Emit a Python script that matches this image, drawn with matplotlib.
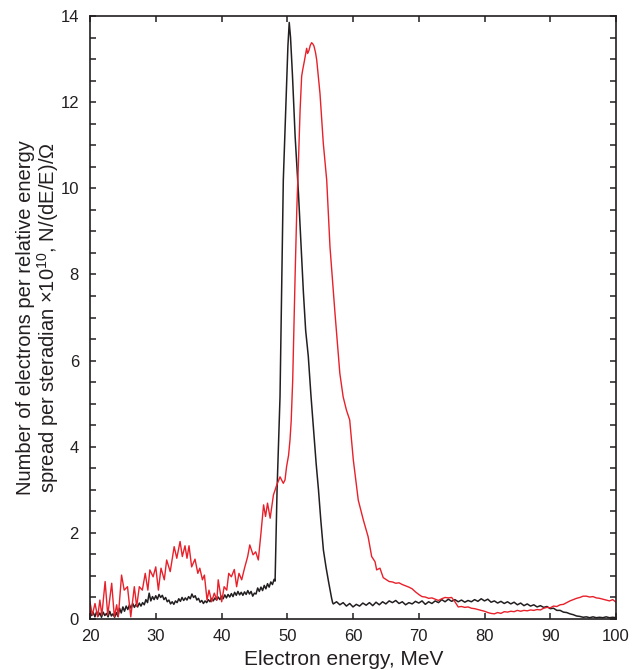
import matplotlib

matplotlib.use("Agg")
import matplotlib.pyplot as plt
from matplotlib.ticker import MultipleLocator

plt.rcParams["font.family"] = ["Liberation Sans", "DejaVu Sans"]
plt.rcParams["mathtext.fontset"] = "custom"
plt.rcParams["mathtext.rm"] = "Liberation Sans"
plt.rcParams["mathtext.it"] = "Liberation Sans:italic"

INK = "#231f20"
RED = "#e8202a"

# black spectrum: low-energy background, sharp peak near 50 MeV, flat tail
black_energy = [
    20.00, 20.25, 20.50, 20.75, 21.00, 21.25, 21.50, 21.75, 22.00, 22.25,
    22.50, 22.75, 23.00, 23.25, 23.50, 23.75, 24.00, 24.25, 24.50, 24.75,
    25.00, 25.25, 25.50, 25.75, 26.00, 26.25, 26.50, 26.75, 27.00, 27.25,
    27.50, 27.75, 28.00, 28.25, 28.50, 28.75, 29.00, 29.25, 29.50, 29.75,
    30.00, 30.25, 30.50, 30.75, 31.00, 31.25, 31.50, 31.75, 32.00, 32.25,
    32.50, 32.75, 33.00, 33.25, 33.50, 33.75, 34.00, 34.25, 34.50, 34.75,
    35.00, 35.25, 35.50, 35.75, 36.00, 36.25, 36.50, 36.75, 37.00, 37.25,
    37.50, 37.75, 38.00, 38.25, 38.50, 38.75, 39.00, 39.25, 39.50, 39.75,
    40.00, 40.25, 40.50, 40.75, 41.00, 41.25, 41.50, 41.75, 42.00, 42.25,
    42.50, 42.75, 43.00, 43.25, 43.50, 43.75, 44.00, 44.25, 44.50, 44.75,
    45.00, 45.25, 45.50, 45.75, 46.00, 46.25, 46.50, 46.75, 47.00, 47.25,
    47.50, 47.75, 48.00, 48.15,
    48.45, 48.9, 49.4, 49.8, 50.1, 50.3, 50.5, 50.8, 51.2, 51.7,
    52.1, 52.45, 52.8, 53.2, 53.6, 53.95, 54.4, 54.75, 55.1, 55.5,
    55.9, 56.3, 56.75, 56.9,
    57.0, 57.5, 58.0, 58.5, 59.0, 59.5, 60.0, 60.5, 61.0, 61.5,
    62.0, 62.5, 63.0, 63.5, 64.0, 64.5, 65.0, 65.5, 66.0, 66.5,
    67.0, 67.5, 68.0, 68.5, 69.0, 69.5, 70.0, 70.5, 71.0, 71.5,
    72.0, 72.5, 73.0, 73.5, 74.0, 74.5, 75.0, 75.5, 76.0, 76.5,
    77.0, 77.5, 78.0, 78.5, 79.0, 79.5, 80.0, 80.5, 81.0, 81.5,
    82.0, 82.5, 83.0, 83.5, 84.0, 84.5, 85.0, 85.5, 86.0, 86.5,
    87.0, 87.5, 88.0, 88.5, 89.0, 89.5, 90.0, 90.5, 91.0, 91.5,
    92.0, 92.5, 93.0, 93.5, 94.0, 94.5, 95.0, 95.5, 96.0, 96.5,
    97.0, 97.5, 98.0, 98.5, 99.0, 99.5, 100.0,
]
black_value = [
    0.18, 0.08, 0.15, 0.05, 0.17, 0.07, 0.14, 0.04, 0.16, 0.08,
    0.13, 0.05, 0.18, 0.07, 0.12, 0.04, 0.15, 0.06, 0.25, 0.14,
    0.28, 0.18, 0.30, 0.22, 0.33, 0.25, 0.36, 0.27, 0.34, 0.28,
    0.37, 0.30, 0.38, 0.33, 0.45, 0.38, 0.60, 0.42, 0.52, 0.45,
    0.54, 0.46, 0.57, 0.50, 0.55, 0.45, 0.50, 0.40, 0.44, 0.35,
    0.40, 0.34, 0.42, 0.38, 0.47, 0.41, 0.50, 0.43, 0.49, 0.44,
    0.52, 0.47, 0.58, 0.50, 0.54, 0.44, 0.48, 0.39, 0.43, 0.36,
    0.42, 0.38, 0.45, 0.40, 0.48, 0.42, 0.49, 0.44, 0.51, 0.45,
    0.53, 0.47, 0.56, 0.49, 0.57, 0.51, 0.59, 0.52, 0.62, 0.55,
    0.64, 0.56, 0.62, 0.55, 0.63, 0.57, 0.66, 0.58, 0.64, 0.53,
    0.60, 0.58, 0.72, 0.64, 0.74, 0.66, 0.78, 0.70, 0.82, 0.74,
    0.86, 0.80, 0.92, 0.88,
    3.00, 5.16, 10.19, 12.00, 13.30, 13.85, 13.50, 12.60, 11.20, 9.90,
    8.70, 7.60, 6.70, 6.10, 5.20, 4.50, 3.60, 3.00, 2.30, 1.60,
    1.20, 0.85, 0.48, 0.38,
    0.35, 0.40, 0.33, 0.38, 0.30, 0.36, 0.28, 0.34, 0.30, 0.37,
    0.32, 0.38, 0.31, 0.39, 0.33, 0.40, 0.35, 0.42, 0.38, 0.43,
    0.36, 0.40, 0.33, 0.38, 0.35, 0.41, 0.37, 0.42, 0.34, 0.40,
    0.36, 0.42, 0.38, 0.45, 0.40, 0.46, 0.41, 0.45, 0.40, 0.44,
    0.39, 0.43, 0.40, 0.45, 0.41, 0.47, 0.42, 0.46, 0.39, 0.42,
    0.37, 0.41, 0.36, 0.40, 0.35, 0.39, 0.33, 0.37, 0.31, 0.35,
    0.30, 0.33, 0.28, 0.31, 0.27, 0.29, 0.24, 0.25, 0.20, 0.20,
    0.16, 0.15, 0.12, 0.10, 0.07, 0.06, 0.04, 0.05, 0.03, 0.05,
    0.03, 0.04, 0.03, 0.05, 0.03, 0.04, 0.03,
]

# red spectrum: noisy low-energy part, broader peak near 53.5 MeV
red_energy = [
    20.0, 20.35, 20.76, 21.17, 21.5, 21.8, 22.3, 22.7, 23.3, 23.7,
    24.06, 24.3, 24.8, 25.2, 25.7, 26.2, 26.74, 27.1, 27.5, 27.96,
    28.4, 28.8, 29.1, 29.6, 30.0, 30.4, 30.8, 31.3, 31.66, 32.2,
    32.8, 33.2, 33.7, 34.04, 34.45, 34.75, 35.06, 35.46, 35.97, 36.4,
    36.7, 37.1, 37.4, 37.8, 38.1, 38.5, 38.9, 39.3, 39.5, 40.03,
    40.4, 40.8, 41.1, 41.5, 41.95, 42.3, 42.66, 43.07, 43.5, 43.98,
    44.3, 44.8, 45.2, 45.6, 46.0, 46.4, 46.7, 47.0, 47.4, 47.9,
    48.4, 48.9, 49.4, 49.66, 49.9, 50.2, 50.42, 50.6, 50.83, 51.0,
    51.2, 51.45, 51.7, 51.95, 52.19, 52.35, 52.6, 52.95, 53.1, 53.3,
    53.5, 53.71, 53.9, 54.07, 54.3, 54.48, 54.98, 55.48, 56.0, 56.5,
    57.26, 58.0, 58.5, 59.0, 59.5, 60.05, 60.8, 61.57, 62.3, 62.84,
    63.35, 63.6, 64.1, 64.6,
    65.0, 65.5, 66.0, 66.5, 67.0, 67.5, 68.0, 68.5, 69.0, 69.5,
    70.0, 70.5, 71.0, 71.5, 72.0, 72.5, 73.0, 73.5, 74.0, 74.5,
    75.0, 75.5, 76.0, 76.5, 77.0, 77.5, 78.0, 78.5, 79.0, 79.5,
    80.0, 80.5, 81.0, 81.5, 82.0, 82.5, 83.0, 83.5, 84.0, 84.5,
    85.0, 85.5, 86.0, 86.5, 87.0, 87.5, 88.0, 88.5, 89.0, 89.5,
    90.0, 90.5, 91.0, 91.5, 92.0, 92.5, 93.0, 93.5, 94.0, 94.5,
    95.0, 95.5, 96.0, 96.5, 97.0, 97.5, 98.0, 98.5, 99.0, 99.5,
    100.0,
]
red_value = [
    0.40, 0.09, 0.36, 0.05, 0.44, 0.09, 0.87, 0.09, 0.83, 0.05,
    0.33, 0.05, 1.02, 0.67, 0.75, 0.05, 0.75, 0.29, 0.75, 0.67,
    1.06, 0.67, 1.14, 0.98, 1.21, 0.67, 1.18, 0.91, 1.37, 1.10,
    1.68, 1.41, 1.80, 1.45, 1.70, 1.41, 1.70, 1.21, 1.39, 1.06,
    1.18, 0.91, 1.02, 0.44, 0.67, 0.40, 0.60, 0.44, 0.91, 0.40,
    0.75, 0.67, 1.06, 0.98, 1.15, 0.75, 1.06, 0.91, 1.18, 1.45,
    1.72, 1.49, 1.56, 1.37, 1.99, 2.65, 2.38, 2.69, 2.34, 2.88,
    3.11, 3.30, 3.15, 3.23, 3.54, 3.80, 4.16, 4.60, 5.55, 6.70,
    8.00, 9.50, 10.60, 11.80, 12.60, 12.75, 12.95, 13.25, 13.13, 13.20,
    13.32, 13.38, 13.35, 13.30, 13.15, 12.98, 12.20, 11.05, 10.19, 8.64,
    7.10, 5.70, 5.16, 4.85, 4.62, 3.69, 2.76, 2.30, 1.91, 1.45,
    1.33, 1.14, 1.18, 0.96,
    0.92, 0.87, 0.86, 0.83, 0.84, 0.80, 0.77, 0.74, 0.70, 0.63,
    0.57, 0.52, 0.51, 0.48, 0.49, 0.46, 0.43, 0.47, 0.50, 0.49,
    0.50, 0.40, 0.28, 0.29, 0.27, 0.28, 0.25, 0.24, 0.22, 0.20,
    0.18, 0.15, 0.13, 0.12, 0.15, 0.13, 0.17, 0.16, 0.18, 0.17,
    0.20, 0.18, 0.20, 0.19, 0.21, 0.20, 0.22, 0.21, 0.25, 0.27,
    0.26, 0.30, 0.29, 0.33, 0.34, 0.38, 0.42, 0.45, 0.48, 0.50,
    0.53, 0.53, 0.51, 0.52, 0.49, 0.48, 0.46, 0.44, 0.42, 0.45,
    0.39,
]

x_ticks = [20, 30, 40, 50, 60, 70, 80, 90, 100]
y_ticks = [0, 2, 4, 6, 8, 10, 12, 14]

fig = plt.figure(figsize=(6.35, 6.70), dpi=100)
ax = fig.add_axes([90 / 635, 51 / 670, 526 / 635, 603 / 670])

ax.plot(black_energy, black_value, color=INK, lw=1.1)
ax.plot(red_energy, red_value, color=RED, lw=1.0)

ax.set_xlim(20, 100)
ax.set_ylim(0, 14)
ax.set_xticks(x_ticks)
ax.set_yticks(y_ticks)
ax.yaxis.set_minor_locator(MultipleLocator(0.5))
ax.tick_params(which="both", direction="in", top=True, right=True,
               length=4, width=1.1, color=INK, labelsize=12, labelcolor=INK)
ax.tick_params(axis="x", pad=7)
ax.tick_params(axis="y", pad=8)
for spine in ax.spines.values():
    spine.set_linewidth(1.2)
    spine.set_color(INK)

fig.text(344 / 635, 1 - 665 / 670, "Electron energy, MeV",
         ha="center", va="baseline", fontsize=15, color=INK)

fig.text(26 / 635, 1 - 318 / 670, "Number of electrons per relative energy",
         rotation=90, ha="center", va="center", fontsize=14.5, color=INK)
fig.text(48 / 635, 1 - 318 / 670, "spread per steradian ×10$^{10}$, N/(dE/E)/Ω",
         rotation=90, ha="center", va="center", fontsize=14.5, color=INK)

fig.savefig("out.png", dpi=100)
